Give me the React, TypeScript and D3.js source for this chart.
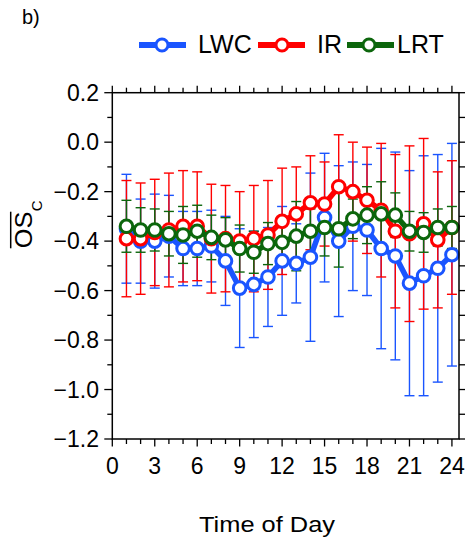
import React from 'react'
import * as d3 from 'd3'

// hours of the day
const hours = d3.range(1, 25)

// LWC (blue)
const lwcMean = [-0.35, -0.40, -0.40, -0.38, -0.43, -0.43, -0.42, -0.48, -0.59, -0.575, -0.545, -0.48, -0.49, -0.465, -0.305, -0.40, -0.34, -0.355, -0.43, -0.46, -0.57, -0.54, -0.51, -0.455]
const lwcErr = [0.22, 0.17, 0.19, 0.165, 0.15, 0.15, 0.145, 0.18, 0.24, 0.215, 0.2, 0.22, 0.16, 0.34, 0.26, 0.305, 0.26, 0.265, 0.405, 0.42, 0.455, 0.485, 0.46, 0.45]

// IR (red)
const irMean = [-0.39, -0.39, -0.365, -0.355, -0.34, -0.34, -0.39, -0.39, -0.40, -0.39, -0.375, -0.32, -0.29, -0.245, -0.25, -0.18, -0.20, -0.235, -0.275, -0.36, -0.37, -0.33, -0.395, -0.345]
const irErr = [0.235, 0.225, 0.215, 0.23, 0.225, 0.22, 0.22, 0.215, 0.2, 0.215, 0.22, 0.215, 0.19, 0.19, 0.17, 0.21, 0.2, 0.215, 0.27, 0.31, 0.355, 0.345, 0.275, 0.27]

// LRT (green)
const lrtMean = [-0.34, -0.355, -0.355, -0.37, -0.375, -0.36, -0.385, -0.395, -0.43, -0.445, -0.41, -0.405, -0.38, -0.36, -0.345, -0.35, -0.31, -0.295, -0.29, -0.295, -0.36, -0.365, -0.345, -0.345]
const lrtErr = [0.105, 0.09, 0.085, 0.09, 0.115, 0.105, 0.09, 0.09, 0.095, 0.085, 0.085, 0.09, 0.14, 0.09, 0.115, 0.155, 0.08, 0.115, 0.13, 0.09, 0.08, 0.08, 0.075, 0.085]

const xTicks = d3.range(0, 25, 3)
const yTicks = d3.range(-1.2, 0.21, 0.2)

const series = [
  { name: 'LWC', color: '#1a55ff', mean: lwcMean, err: lwcErr },
  { name: 'IR', color: '#ff0000', mean: irMean, err: irErr },
  { name: 'LRT', color: '#0c660c', mean: lrtMean, err: lrtErr },
]

const font = '"Liberation Sans", Arial, Helvetica, sans-serif'

export default function App() {
  const left = 112.3
  const right = 459
  const top = 92.7
  const bottom = 439

  const x = d3.scaleLinear().domain([0, 24.5]).range([left, right])
  const y = d3.scaleLinear().domain([-1.2, 0.2]).range([bottom, top])

  const line = d3.line<number>()
    .x((_, i) => x(hours[i]))
    .y(d => y(d))

  const minorX = d3.range(0, 25)
  const minorY = d3.range(-12, 3).map(d => d / 10)

  const legend = [
    { lx: 139, mx: 162, tx: 198 },
    { lx: 258, mx: 282, tx: 317 },
    { lx: 347, mx: 369, tx: 397 },
  ]

  return (
    <svg width={470} height={543} style={{ position: 'absolute', left: 0, top: 0, background: '#fff' }} fontFamily={font}>
      <text x={22} y={24} fontSize={20}>b)</text>

      {/* legend */}
      {series.map((s, i) => (
        <g key={s.name}>
          <line x1={legend[i].lx} x2={legend[i].lx + 47} y1={45} y2={45} stroke={s.color} strokeWidth={6} />
          <circle cx={legend[i].mx} cy={45} r={6} fill="#fff" stroke={s.color} strokeWidth={3} />
          <text x={legend[i].tx} y={53} fontSize={25}>{s.name}</text>
        </g>
      ))}

      {/* ticks */}
      {minorX.map(h => {
        const major = h % 3 === 0
        return (
          <g key={'x' + h} stroke="#000" strokeWidth={1.3}>
            <line x1={x(h)} x2={x(h)} y1={bottom} y2={bottom + (major ? 7.5 : 5)} />
            <line x1={x(h)} x2={x(h)} y1={top} y2={top - (major ? 7 : 5)} />
          </g>
        )
      })}
      {minorY.map(v => {
        const major = Math.round(v * 10) % 2 === 0
        return (
          <g key={'y' + v} stroke="#000" strokeWidth={1.3}>
            <line x1={left} x2={left - (major ? 8 : 5)} y1={y(v)} y2={y(v)} />
            <line x1={right} x2={right + 6} y1={y(v)} y2={y(v)} />
          </g>
        )
      })}

      {xTicks.map(h => (
        <text key={'xl' + h} x={x(h)} y={474} fontSize={23} textAnchor="middle">{h}</text>
      ))}
      {yTicks.map(v => (
        <text key={'yl' + v} x={99} y={y(v)} dy="0.35em" fontSize={23} textAnchor="end">{d3.format('.1f')(v)}</text>
      ))}

      {/* error bars */}
      {series.map(s => (
        <g key={'e' + s.name} stroke={s.color} strokeWidth={1.4}>
          {s.mean.map((m, i) => {
            const cx = x(hours[i])
            const y1 = y(m + s.err[i])
            const y2 = y(m - s.err[i])
            return (
              <g key={i}>
                <line x1={cx} x2={cx} y1={y1} y2={y2} />
                <line x1={cx - 5} x2={cx + 5} y1={y1} y2={y1} />
                <line x1={cx - 5} x2={cx + 5} y1={y2} y2={y2} />
              </g>
            )
          })}
        </g>
      ))}

      {/* lines and markers */}
      {series.map(s => (
        <g key={'l' + s.name}>
          <path d={line(s.mean) || ''} fill="none" stroke={s.color} strokeWidth={5.5} />
          {s.mean.map((m, i) => (
            <circle key={i} cx={x(hours[i])} cy={y(m)} r={6.3} fill="#fff" stroke={s.color} strokeWidth={3} />
          ))}
        </g>
      ))}

      <rect x={left} y={top} width={right - left} height={bottom - top} fill="none" stroke="#000" strokeWidth={1.5} />

      {/* y label */}
      <g transform="translate(31.7,248.3) rotate(-90)">
        <text x={0} y={0} fontSize={24} textLength={36.6} lengthAdjust="spacingAndGlyphs">OS</text>
        <line x1={0} x2={36.6} y1={-21} y2={-21} stroke="#000" strokeWidth={1.5} />
        <text x={37} y={10} fontSize={15}>C</text>
      </g>

      <text x={267} y={531.7} fontSize={22} textAnchor="middle" textLength={136} lengthAdjust="spacingAndGlyphs">Time of Day</text>
    </svg>
  )
}
